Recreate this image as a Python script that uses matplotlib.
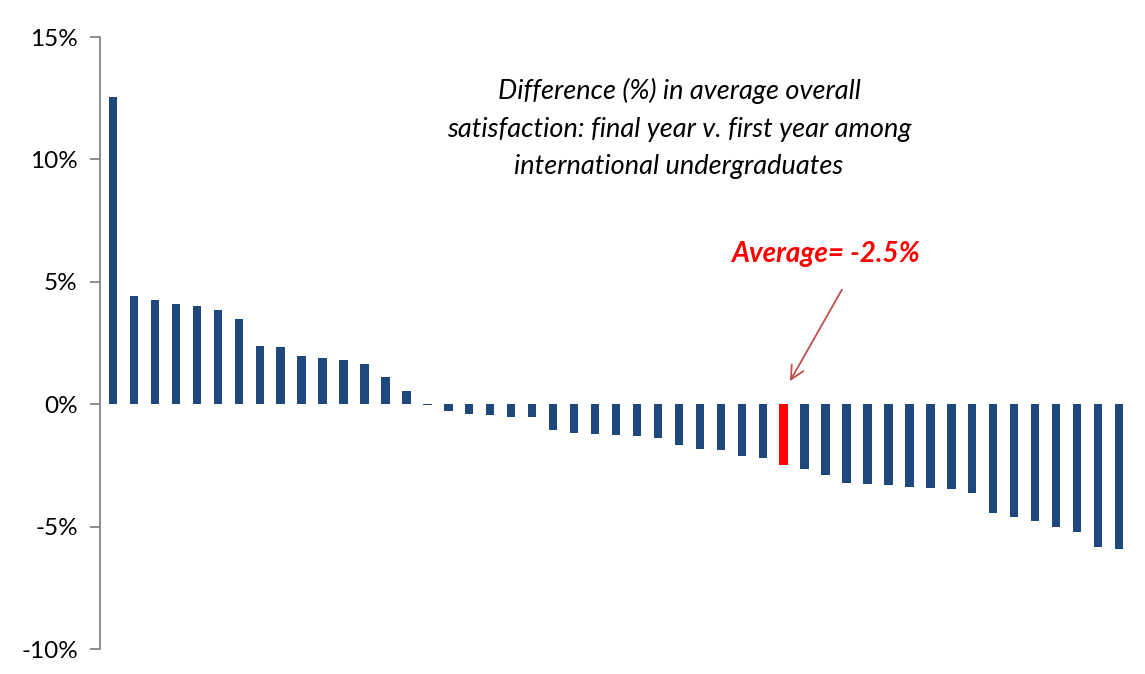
import matplotlib
matplotlib.use('Agg')
import matplotlib.pyplot as plt
from matplotlib.ticker import FuncFormatter, MultipleLocator

# difference (%) in satisfaction, one bar per institution, sorted high to low
diffs = [12.55, 4.43, 4.24, 4.11, 4.03, 3.83, 3.49, 2.39, 2.33, 1.96,
         1.90, 1.79, 1.66, 1.10, 0.54, -0.03, -0.26, -0.41, -0.46, -0.54,
         -0.54, -1.05, -1.17, -1.20, -1.25, -1.30, -1.38, -1.68, -1.85, -1.87,
         -2.13, -2.19, -2.5, -2.63, -2.89, -3.23, -3.27, -3.31, -3.37, -3.43,
         -3.46, -3.63, -4.43, -4.59, -4.79, -5.00, -5.24, -5.82, -5.92]
avg_value = -2.5
avg_idx = diffs.index(avg_value)

title_txt = ('Difference (%) in average overall\n'
             'satisfaction: final year v. first year among\n'
             'international undergraduates')
avg_txt = 'Average= -2.5%'

plt.rcParams['font.family'] = ['Lato', 'DejaVu Sans']

fig = plt.figure(figsize=(11.45, 6.74), dpi=100)
ax = fig.add_axes([100 / 1145, 1 - 649 / 674, 1032 / 1145, (649 - 37) / 674])

colors = ['#1F497D'] * len(diffs)
colors[avg_idx] = '#FF0000'
ax.bar(range(len(diffs)), diffs, width=0.4, color=colors)

ax.set_ylim(-10, 15)
ax.set_xlim(-0.62, len(diffs) - 0.38)
ax.yaxis.set_major_locator(MultipleLocator(5))
ax.yaxis.set_major_formatter(FuncFormatter(lambda v, p: f'{v:.0f}%'))
ax.set_xticks([])

for s in ['top', 'right', 'bottom']:
    ax.spines[s].set_visible(False)
ax.spines['left'].set_color('#868686')
ax.spines['left'].set_linewidth(1.3)
ax.tick_params(axis='y', length=7, width=1.3, color='#868686',
               labelsize=17.5, pad=9, labelcolor='#000000')

# caption in the upper right part of the plot
ax.text(0.561, 0.85, title_txt, transform=ax.transAxes, ha='center',
        va='center', style='italic', fontsize=19.5, linespacing=1.62)

# arrow from the label down to the average bar
ax.annotate('', xy=(avg_idx + 0.3, 0.94), xytext=(avg_idx + 2.78, 4.68),
            arrowprops=dict(arrowstyle='->', color='#C0504D', lw=1.3,
                            mutation_scale=24, shrinkA=0, shrinkB=0))
ax.text(avg_idx + 2.0, 6.15, avg_txt, ha='center', va='center',
        color='#FF0000', fontsize=20, fontweight='bold', style='italic')

fig.savefig('out.png', dpi=100)
